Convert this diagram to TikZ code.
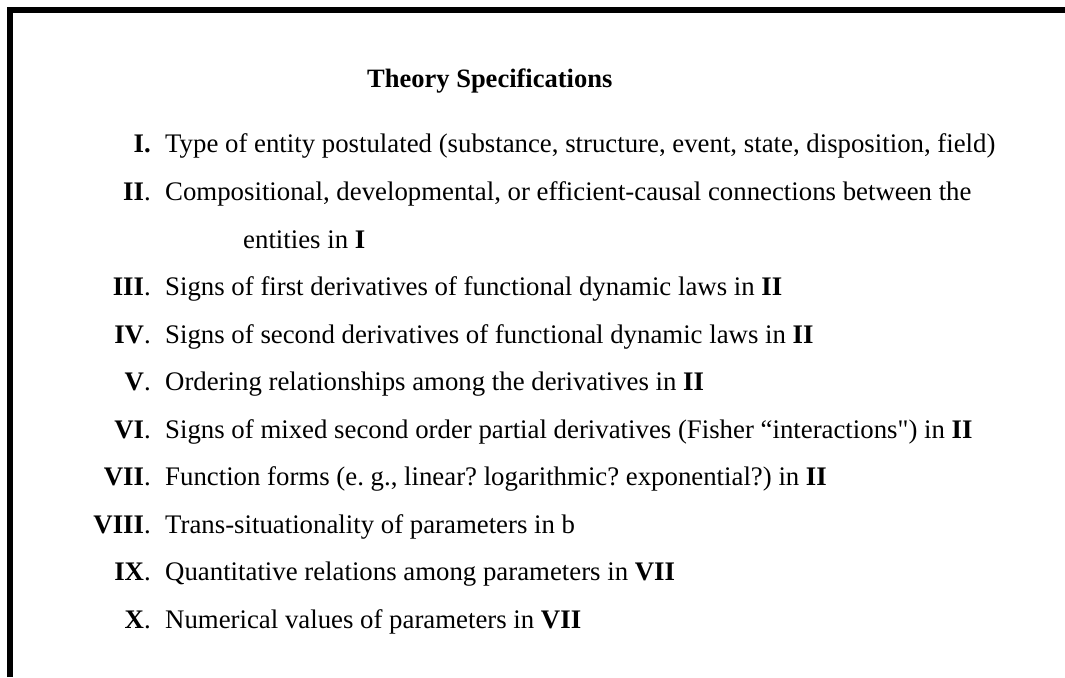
\documentclass[tikz,border=0pt]{standalone}
\usepackage{fontspec}
\setmainfont{Liberation Serif}
\newfontfamily\quotefont{Liberation Serif}
\frenchspacing
\begin{document}
\begin{tikzpicture}[x=1pt,y=-1pt,
    num/.style={anchor=base east,inner sep=0pt,font=\fontsize{26.8}{30}\selectfont},
    item/.style={anchor=base west,inner sep=0pt,font=\fontsize{26.8}{30}\selectfont}]
      \useasboundingbox (0,0) rectangle (1065,677);
      \draw[line width=6pt] (10,677) -- (10,10) -- (1065,10);
      \node[anchor=base west,inner sep=0pt,font=\fontsize{26.5}{30}\selectfont\bfseries] (title) at (367,87) {Theory Specifications};
      \node[num] (n1) at (151,152) {\textbf{I.}};
      \node[item] (t1) at (165,152) {Type of entity postulated (substance, structure, event, state, disposition, field)};
      \node[num] (n2) at (151,200) {\textbf{II}.};
      \node[item] (t2) at (165,200) {Compositional, developmental, or efficient-causal connections between the};
      \node[item] (t2b) at (243,248) {entities in \textbf{I}};
      \node[num] (n3) at (151,295) {\textbf{III}.};
      \node[item] (t3) at (165,295) {Signs of first derivatives of functional dynamic laws in \textbf{II}};
      \node[num] (n4) at (151,343) {\textbf{IV}.};
      \node[item] (t4) at (165,343) {Signs of second derivatives of functional dynamic laws in \textbf{II}};
      \node[num] (n5) at (151,390) {\textbf{V}.};
      \node[item] (t5) at (165,390) {Ordering relationships among the derivatives in \textbf{II}};
      \node[num] (n6) at (151,438) {\textbf{VI}.};
      \node[item] (t6) at (165,438) {Signs of mixed second order partial derivatives (Fisher “interactions{\quotefont"}) in \textbf{II}};
      \node[num] (n7) at (151,485) {\textbf{VII}.};
      \node[item] (t7) at (165,485) {Function forms (e. g., linear? logarithmic? exponential?) in \textbf{II}};
      \node[num] (n8) at (151,533) {\textbf{VIII}.};
      \node[item] (t8) at (165,533) {Trans-situationality of parameters in b};
      \node[num] (n9) at (151,580) {\textbf{IX}.};
      \node[item] (t9) at (165,580) {Quantitative relations among parameters in \textbf{VII}};
      \node[num] (n10) at (151,628) {\textbf{X}.};
      \node[item] (t10) at (165,628) {Numerical values of parameters in \textbf{VII}};
    \end{tikzpicture}
\end{document}
